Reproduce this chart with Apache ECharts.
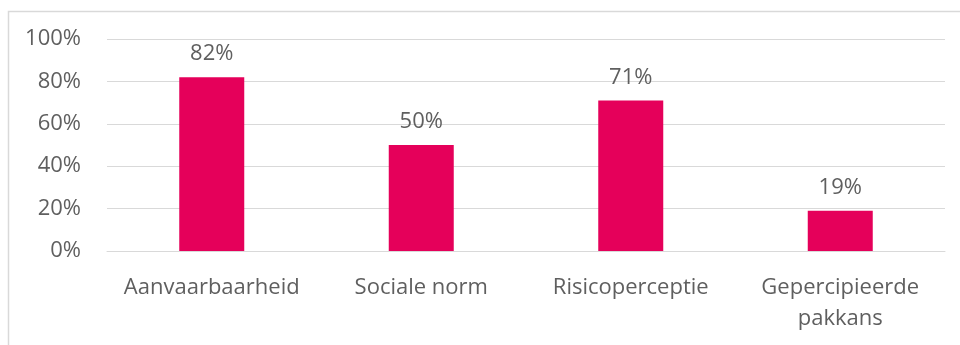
<!DOCTYPE html>
<html><head><meta charset="utf-8">
<script src="https://cdn.jsdelivr.net/npm/echarts@6/dist/echarts.min.js"></script>
<style>html,body{margin:0;padding:0;background:#fff}#c{width:960px;height:345px}</style>
</head><body><div id="c"></div>
<script>
const categories = ['Aanvaarbaarheid', 'Sociale norm', 'Risicoperceptie', 'Gepercipieerde\npakkans'];
const values = [82, 50, 71, 19];
const yTicks = [0, 20, 40, 60, 80, 100];

const chart = echarts.init(document.getElementById('c'), null, {renderer: 'canvas'});
const font = '"Open Sans", "Noto Sans", sans-serif';
chart.setOption({
  animation: false,
  textStyle: {fontFamily: font},
  graphic: [{
    type: 'rect', left: 6, top: 9, shape: {width: 1000, height: 400},
    style: {fill: 'none', stroke: '#d9d9d9', lineWidth: 1.5}, silent: true
  }],
  grid: {left: 107, right: 15, top: 39, bottom: 94, containLabel: false},
  xAxis: {
    type: 'category', data: categories,
    axisLine: {show: true, lineStyle: {color: '#d9d9d9', width: 1}},
    axisTick: {show: false},
    axisLabel: {color: '#5f5f5f', fontSize: 22, fontFamily: font, margin: 21, lineHeight: 31, interval: 0}
  },
  yAxis: {
    type: 'value', min: yTicks[0], max: yTicks[yTicks.length - 1], interval: 20,
    axisLine: {show: false}, axisTick: {show: false},
    splitLine: {lineStyle: {color: '#d9d9d9', width: 1}},
    axisLabel: {color: '#5f5f5f', fontSize: 22, fontFamily: font, margin: 26, formatter: v => v + '%'}
  },
  series: [{
    type: 'bar', data: values, barWidth: 65,
    itemStyle: {color: '#E5005A'},
    label: {show: true, position: 'top', distance: 12, color: '#5f5f5f', fontSize: 22, fontFamily: font, formatter: p => p.value + '%'}
  }]
});
</script></body></html>
